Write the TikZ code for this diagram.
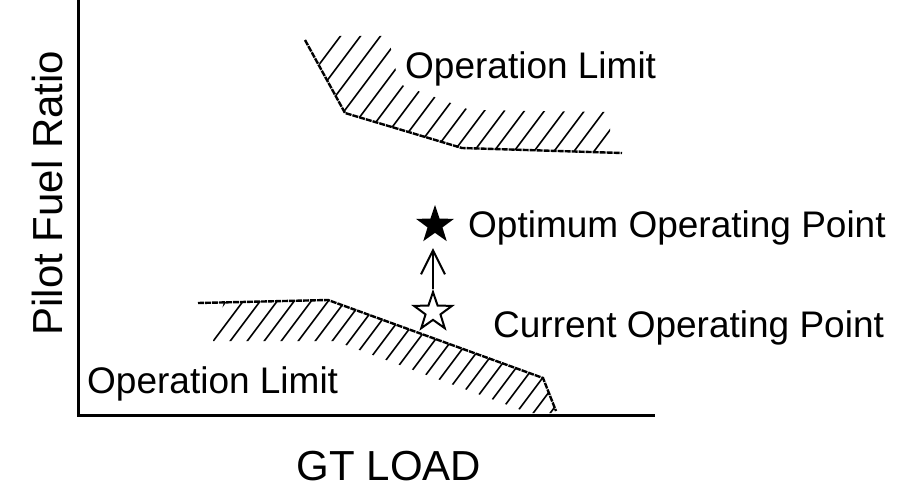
\documentclass[tikz,border=0pt]{standalone}
\usepackage{fontspec}
\setmainfont{Liberation Sans}
\usetikzlibrary{shapes.geometric,arrows.meta}
\tikzset{
  lbl/.style={font=\fontsize{37}{44}\selectfont, inner sep=0pt},
  axlbl/.style={font=\fontsize{42}{50}\selectfont, inner sep=0pt},
  limline/.style={line width=2.4pt, dash pattern=on 6pt off 1pt},
  hatch/.style={line width=1.6pt},
  pt/.style={star, star points=5, star point ratio=2.55, minimum size=40pt, inner sep=0pt, line width=2pt}
}
\begin{document}
\begin{tikzpicture}[x=1pt,y=-1pt]
				\useasboundingbox (0,0) rectangle (918,492);
				\draw[line width=3pt] (78,0) -- (78,415) -- (655,415);
				\node[axlbl, rotate=90, anchor=base] (ylab) at (62,193) {Pilot Fuel Ratio};
				\node[axlbl, anchor=base] (xlab) at (389,480) {GT LOAD};
				
				\begin{scope}
					\clip (305,36) -- (388,36) -- (399,84) -- (470,110) -- (610,112) -- (610,152) -- (462,149) -- (345,113) -- cycle;
					\foreach \x in {240,260,...,660}
						\draw[hatch] (\x,170) -- ++(150,-200);
				\end{scope}
				\draw[limline] (305,40) -- (345,113) -- (462,148) -- (622,153);
				\node[lbl, anchor=base west] (limup) at (405,79) {Operation Limit};
				
				\begin{scope}
					\clip (224,302) -- (328,300) -- (543,378) -- (557,413) -- (335,413) -- (335,341) -- (213,341) -- cycle;
					\clip (213,341) -- (335,341) -- (548,420) -- (560,420) -- (560,290) -- (200,290) -- cycle;
					\foreach \x in {120,137,...,580}
						\draw[hatch] (\x,420) -- ++(150,-200);
				\end{scope}
				\draw[limline] (198,303) -- (328,300) -- (543,378) -- (556,411);
				\node[lbl, anchor=base west] (limlow) at (87,393) {Operation Limit};
				
				\node[pt, fill=black] (opt) at (435,225) {};
				\node[pt, draw=black, fill=white] (cur) at (433,312) {};
				\draw[line width=2pt, -{Straight Barb[length=24pt, width=24pt, line width=2pt]}, shorten >=14pt] (cur.north) -- (cur.north |- opt.south);
				\node[lbl, anchor=base west] (optlab) at (468,237) {Optimum Operating Point};
				\node[lbl, anchor=base west] (curlab) at (493,337) {Current Operating Point};
			\end{tikzpicture}
\end{document}
